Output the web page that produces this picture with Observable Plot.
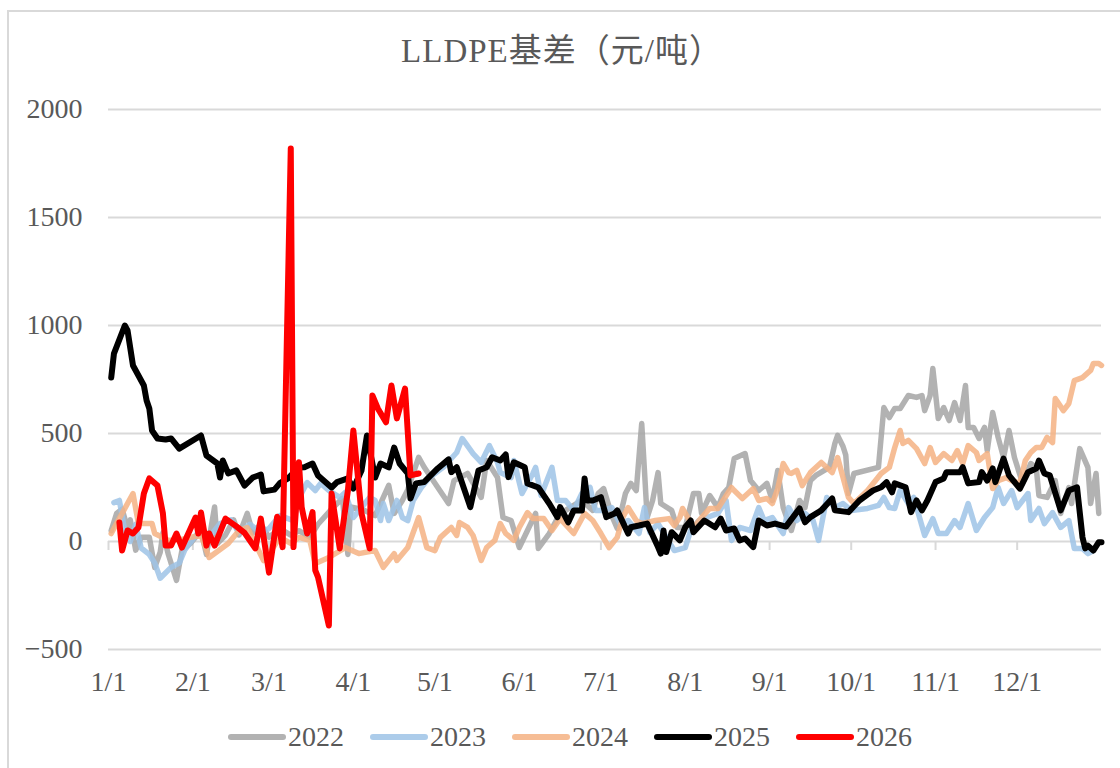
<!DOCTYPE html>
<html>
<head>
<meta charset="utf-8">
<script src="https://cdn.jsdelivr.net/npm/d3@7"></script>
<script src="https://cdn.jsdelivr.net/npm/@observablehq/plot@0.6"></script>
<style>
  html, body { margin: 0; padding: 0; background: #fff; width: 1120px; height: 768px; overflow: hidden; }
  #frame { position: absolute; left: 7px; top: 10px; width: 1200px; height: 800px;
           border-left: 2px solid #d9d9d9; border-top: 2px solid #d9d9d9; }
  #title { position: absolute; left: 0; top: 35px; width: 1124px; text-align: center;
           font-family: "Liberation Serif", "Noto Sans CJK SC", serif; font-size: 33px; line-height: 33px;
           letter-spacing: 1px; color: #595959; }
  #chart { position: absolute; left: 0; top: 90px; }
  #legend { position: absolute; left: 227px; top: 723px; display: flex; align-items: center;
            font-family: "Liberation Serif", serif; font-size: 28px; line-height: 28px; color: #595959; }
  .item { display: flex; align-items: center; margin-right: 25px; }
  .item svg { margin-right: 1px; }
</style>
</head>
<body>
<div id="frame"></div>
<div id="title">LLDPE基差（元/吨）</div>
<div id="chart"></div>
<div id="legend"></div>
<script>
// ---- data: [day of year (0 = 1/1), basis 元/吨] ----
const s2022 = [[1,50],[3,130],[5,150],[7,60],[8,100],[10,-40],[12,20],[15,20],[17,-120],[19,-50],[20,40],[22,-60],[25,-180],[27,-40],[30,-10],[34,50],[36,-60],[39,160],[40,-10],[43,30],[46,100],[48,30],[51,130],[53,40],[56,80],[59,20],[63,60],[67,30],[70,50],[74,20],[77,80],[82,150],[86,200],[88,-60],[89,160],[93,150],[98,120],[103,260],[105,130],[108,190],[110,240],[114,390],[116,345],[120,270],[125,176],[127,282],[132,315],[137,204],[139,375],[143,296],[145,111],[148,97],[151,-28],[154,51],[157,130],[158,-32],[162,37],[166,130],[168,144],[174,190],[178,144],[180,222],[182,245],[185,120],[187,60],[190,222],[192,269],[194,236],[196,546],[197,329],[198,111],[200,190],[202,319],[203,176],[207,144],[209,65],[212,65],[215,222],[217,222],[218,130],[221,213],[224,157],[226,222],[228,250],[230,384],[234,407],[236,282],[239,236],[242,269],[244,190],[246,329],[248,157],[251,51],[254,190],[256,157],[258,282],[260,306],[265,343],[267,454],[268,491],[270,440],[271,400],[272,222],[274,315],[283,343],[285,620],[287,574],[289,616],[291,616],[294,676],[297,667],[299,676],[300,606],[302,676],[303,801],[305,569],[307,620],[309,560],[311,643],[313,560],[315,722],[316,528],[318,528],[320,477],[322,528],[323,421],[325,597],[327,482],[329,389],[331,514],[333,389],[336,269],[339,361],[341,343],[342,213],[345,204],[348,282],[350,130],[353,250],[354,176],[357,430],[360,343],[361,176],[363,315],[364,130]];

const s2023 = [[2,180],[4,190],[6,50],[8,0],[10,80],[12,-30],[15,-60],[17,-100],[19,-170],[23,-120],[26,-100],[28,-40],[31,10],[34,60],[37,20],[41,83],[45,100],[48,40],[52,80],[56,40],[59,60],[63,120],[68,97],[70,200],[73,273],[76,236],[78,269],[81,236],[85,204],[87,227],[90,111],[93,157],[96,204],[98,190],[100,97],[101,176],[103,97],[106,190],[108,111],[110,97],[112,190],[115,250],[118,296],[123,343],[128,412],[130,477],[134,407],[137,366],[140,444],[143,366],[144,319],[148,296],[149,375],[152,222],[156,315],[157,343],[159,213],[163,343],[165,190],[168,190],[171,144],[174,222],[177,250],[179,144],[182,144],[185,157],[188,83],[191,97],[195,37],[197,157],[199,42],[202,83],[208,-42],[212,-28],[214,51],[217,97],[220,111],[224,130],[227,190],[229,5],[232,65],[236,51],[239,157],[241,97],[244,111],[248,37],[250,157],[253,97],[256,130],[259,97],[261,5],[264,204],[267,157],[270,176],[273,144],[279,153],[283,167],[285,204],[287,157],[289,153],[291,236],[294,176],[296,204],[300,28],[303,106],[305,37],[308,37],[311,97],[313,65],[316,176],[319,51],[322,111],[325,157],[327,250],[329,176],[332,236],[334,157],[338,222],[339,97],[342,153],[344,83],[347,134],[350,65],[353,97],[355,-32],[358,-32],[360,-56],[362,-42]];

const s2024 = [[1,37],[5,130],[9,222],[11,83],[16,83],[17,37],[22,5],[27,10],[34,30],[37,-74],[44,-9],[48,51],[51,65],[57,-88],[59,-56],[63,19],[67,-9],[70,19],[74,5],[76,-102],[81,-74],[87,-28],[92,-56],[98,-42],[101,-120],[105,-56],[106,-88],[110,-28],[114,111],[117,-28],[120,-42],[122,19],[126,65],[128,28],[129,88],[132,65],[134,28],[137,-88],[139,-28],[142,5],[144,83],[146,37],[149,5],[151,65],[154,134],[156,106],[160,106],[163,51],[166,106],[171,37],[175,130],[178,97],[181,37],[184,-28],[187,19],[189,111],[191,157],[194,97],[196,83],[201,97],[206,106],[208,74],[210,111],[211,153],[215,65],[218,111],[221,153],[224,153],[229,250],[230,236],[233,199],[237,245],[239,190],[242,199],[244,176],[246,245],[248,361],[250,319],[251,315],[253,329],[255,259],[258,319],[262,366],[266,319],[268,389],[272,204],[274,176],[279,236],[284,315],[287,343],[289,435],[291,514],[292,454],[294,468],[297,430],[300,361],[302,435],[304,366],[307,407],[310,375],[312,421],[314,361],[316,444],[319,412],[320,375],[323,407],[325,245],[327,282],[330,296],[332,282],[335,269],[337,375],[339,412],[341,435],[343,435],[345,482],[347,458],[348,662],[351,606],[353,639],[355,745],[358,759],[361,792],[362,824],[364,824],[365,815]];

const s2025 = [[1,759],[2,870],[6,1000],[7,977],[9,815],[13,722],[14,653],[15,616],[16,514],[18,477],[21,472],[23,477],[26,430],[34,491],[36,398],[40,361],[41,296],[42,375],[44,315],[47,329],[50,259],[53,296],[56,310],[57,232],[61,240],[63,270],[66,292],[70,343],[72,344],[75,361],[77,306],[82,250],[84,275],[88,292],[90,245],[93,329],[95,491],[98,296],[100,361],[103,343],[105,435],[107,361],[110,315],[111,199],[113,269],[116,275],[121,338],[125,380],[126,321],[128,344],[133,159],[136,329],[139,344],[141,390],[144,375],[146,403],[147,298],[149,367],[153,344],[154,269],[158,250],[162,176],[165,113],[166,159],[169,89],[171,144],[174,144],[175,292],[176,190],[178,190],[181,205],[183,113],[186,130],[187,144],[191,37],[192,66],[195,74],[198,83],[202,-26],[203,-56],[204,51],[205,-49],[207,43],[210,5],[212,66],[214,97],[215,43],[219,97],[223,66],[225,106],[227,51],[230,60],[232,5],[234,14],[237,-26],[239,97],[242,74],[245,83],[249,69],[254,153],[256,89],[258,113],[262,144],[266,199],[267,144],[272,136],[276,190],[281,236],[284,251],[286,275],[288,228],[289,269],[293,251],[295,136],[297,190],[299,144],[301,190],[304,275],[307,292],[308,321],[313,321],[314,344],[316,269],[320,275],[321,321],[323,282],[325,338],[326,275],[329,384],[331,306],[335,245],[338,321],[341,338],[342,375],[344,315],[346,306],[350,144],[353,236],[356,251],[358,20],[359,-32],[360,-19],[362,-42],[364,-3],[365,-3]];

const s2026 = [[4,88],[5,-42],[7,51],[9,37],[11,65],[13,222],[15,292],[18,259],[20,130],[21,-19],[23,-19],[25,37],[27,-28],[32,111],[33,37],[34,134],[36,-19],[37,37],[39,-19],[43,106],[47,70],[50,40],[54,-32],[56,106],[59,-144],[62,115],[64,-26],[67,1820],[68,-26],[70,367],[71,159],[73,37],[75,136],[76,-134],[77,-165],[81,-389],[82,222],[85,-32],[88,236],[90,514],[93,130],[96,-32],[97,676],[99,616],[102,552],[104,722],[106,570],[109,708],[111,306],[114,315]];

const seriesNames = ["2022", "2023", "2024", "2025", "2026"];
const seriesData = [s2022, s2023, s2024, s2025, s2026];
const seriesColors = ["#a5a5a5", "#9dc3e6", "#f4b183", "#000000", "#ff0000"];
const seriesOpacity = [0.85, 0.85, 0.85, 1, 1];
const seriesWidth = [5.5, 5.5, 5.5, 6, 6];
const yTicks = [-500, 0, 500, 1000, 1500, 2000];

// ---- build ----
const start = new Date(Date.UTC(2001, 0, 1));
const end = new Date(Date.UTC(2002, 0, 1));
const monthStarts = d3.utcMonths(start, end);
const rows = seriesData.map(s => s.map(([day, v]) => ({date: d3.utcDay.offset(start, day), value: v})));
const fmtY = d => d < 0 ? "\u2212" + Math.abs(d) : String(d);

const lineMarks = rows.map((r, i) => Plot.line(r, {
  x: "date", y: "value",
  stroke: seriesColors[i], strokeOpacity: seriesOpacity[i], strokeWidth: seriesWidth[i],
  strokeLinejoin: "round", strokeLinecap: "round"
}));

const chart = Plot.plot({
  width: 1120, height: 620,
  marginLeft: 108, marginRight: 19, marginTop: 19, marginBottom: 61,
  x: {type: "utc", domain: [start, end], label: null},
  y: {domain: [-500, 2000], label: null},
  style: {fontFamily: '"Liberation Serif", serif', fontSize: "28px", color: "#595959", background: "transparent", overflow: "visible"},
  marks: [
    Plot.gridY({ticks: yTicks, stroke: "#d9d9d9", strokeOpacity: 1, strokeWidth: 2}),
    Plot.axisY({ticks: yTicks, tickSize: 0, tickPadding: 26, tickFormat: fmtY, fill: "#595959"}),
    Plot.ruleX(monthStarts, {x: d => d, y1: 0, y2: 0, insetBottom: -9, stroke: "#d9d9d9", strokeWidth: 2}),
    Plot.axisX({ticks: monthStarts, tickSize: 0, tickPadding: 22, tickFormat: d => `${d.getUTCMonth() + 1}/1`, fill: "#595959"}),
    ...lineMarks
  ]
});
document.getElementById("chart").appendChild(chart);

// ---- legend ----
const legend = document.getElementById("legend");
seriesNames.forEach((name, i) => {
  const item = document.createElement("div");
  item.className = "item";
  item.innerHTML = `<svg width="60" height="10"><line x1="4" y1="5" x2="56" y2="5" stroke="${seriesColors[i]}" stroke-opacity="${seriesOpacity[i]}" stroke-width="6" stroke-linecap="round"/></svg><span>${name}</span>`;
  legend.appendChild(item);
});
</script>
</body>
</html>
